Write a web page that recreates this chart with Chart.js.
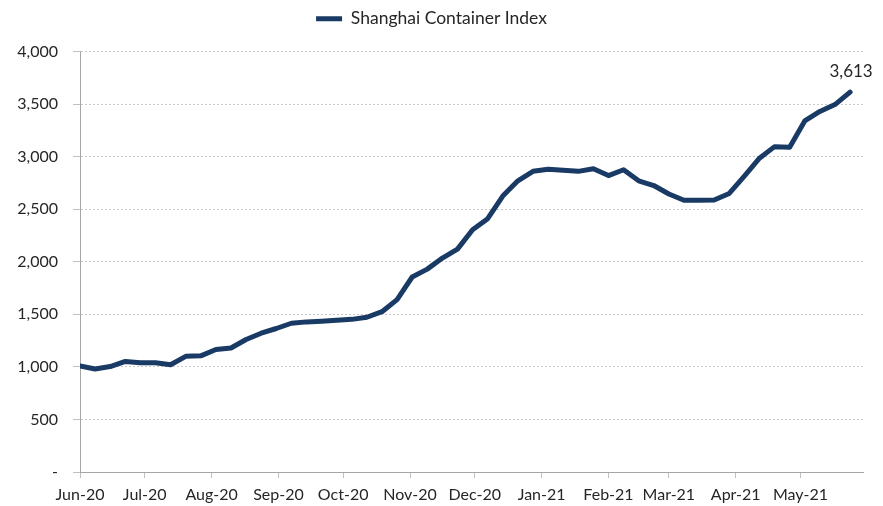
<!DOCTYPE html>
<html>
<head>
<meta charset="utf-8">
<script src="https://cdn.jsdelivr.net/npm/chart.js@4/dist/chart.umd.min.js"></script>
<style>
  html, body { margin: 0; padding: 0; background: #fff; }
  #wrap { width: 883px; height: 506px; }
</style>
</head>
<body>
<div id="wrap"><canvas id="myChart"></canvas></div>
<script>
// weekly index dates (Fridays)
const dates = [
  '2020-06-05', '2020-06-12', '2020-06-19', '2020-06-26',
  '2020-07-03', '2020-07-10', '2020-07-17', '2020-07-24', '2020-07-31',
  '2020-08-07', '2020-08-14', '2020-08-21', '2020-08-28',
  '2020-09-04', '2020-09-11', '2020-09-18', '2020-09-25',
  '2020-10-02', '2020-10-09', '2020-10-16', '2020-10-23', '2020-10-30',
  '2020-11-06', '2020-11-13', '2020-11-20', '2020-11-27',
  '2020-12-04', '2020-12-11', '2020-12-18', '2020-12-25',
  '2021-01-01', '2021-01-08', '2021-01-15', '2021-01-22', '2021-01-29',
  '2021-02-05', '2021-02-12', '2021-02-19', '2021-02-26',
  '2021-03-05', '2021-03-12', '2021-03-19', '2021-03-26',
  '2021-04-02', '2021-04-09', '2021-04-16', '2021-04-23', '2021-04-30',
  '2021-05-07', '2021-05-14', '2021-05-21', '2021-05-28'
];

// Shanghai Container Index
const indexValues = [
  1010, 980, 1003, 1052, 1040, 1040, 1020, 1100, 1105,
  1165, 1180, 1260, 1320,
  1365, 1415, 1428, 1435,
  1443, 1452, 1472, 1525, 1640,
  1855, 1930, 2035, 2120,
  2305, 2410, 2625, 2770,
  2860, 2880, 2870, 2860, 2885,
  2820, 2875, 2770, 2725,
  2645, 2585, 2585, 2587,
  2650, 2815, 2985, 3095, 3090,
  3340, 3430, 3495, 3613
];

// month ticks on the date axis
const tickDates = [
  '2020-06-05', '2020-07-05', '2020-08-05', '2020-09-05', '2020-10-05', '2020-11-05',
  '2020-12-05', '2021-01-05', '2021-02-05', '2021-03-05', '2021-04-05', '2021-05-05'
];
const tickLabels = ['Jun-20', 'Jul-20', 'Aug-20', 'Sep-20', 'Oct-20', 'Nov-20',
  'Dec-20', 'Jan-21', 'Feb-21', 'Mar-21', 'Apr-21', 'May-21'];

const yTicks = [0, 500, 1000, 1500, 2000, 2500, 3000, 3500, 4000];

const dayOf = d => (Date.parse(d) - Date.parse(dates[0])) / 86400000;

const lineColor = '#183a64';
const textColor = '#262626';
const fontFamily = 'Lato, "Open Sans", sans-serif';

// value label at the last point
const lastLabel = {
  id: 'lastLabel',
  afterDatasetsDraw(chart) {
    const meta = chart.getDatasetMeta(0);
    const i = indexValues.length - 1;
    const pt = meta.data[i];
    const ctx = chart.ctx;
    ctx.save();
    ctx.font = '17px ' + fontFamily;
    ctx.fillStyle = textColor;
    ctx.textAlign = 'center';
    ctx.textBaseline = 'middle';
    ctx.fillText(indexValues[i].toLocaleString('en-US'), pt.x + 1, pt.y - 21);
    ctx.restore();
  }
};

// extra room under the legend
const legendGap = {
  id: 'legendGap',
  afterInit(chart) {
    const fit = chart.legend.fit;
    chart.legend.fit = function () {
      fit.call(this);
      this.height += 14;
    };
  }
};

Chart.defaults.font.family = fontFamily;
Chart.defaults.font.size = 16;
Chart.defaults.color = textColor;

const ctx = document.getElementById('myChart').getContext('2d');
const myChart = new Chart(ctx, {
  type: 'line',
  data: {
    datasets: [{
      label: 'Shanghai Container Index',
      data: dates.map((d, i) => ({ x: dayOf(d), y: indexValues[i] })),
      borderColor: lineColor,
      backgroundColor: lineColor,
      borderWidth: 5,
      pointRadius: 0,
      pointHoverRadius: 0,
      tension: 0,
      borderJoinStyle: 'round',
      borderCapStyle: 'round'
    }]
  },
  options: {
    responsive: true,
    maintainAspectRatio: false,
    animation: false,
    layout: { padding: { top: 0, right: 20, left: 0, bottom: 0 } },
    plugins: {
      legend: {
        display: true,
        position: 'top',
        labels: {
          usePointStyle: true,
          pointStyle: 'line',
          pointStyleWidth: 26,
          boxHeight: 17,
          padding: 10,
          color: textColor,
          font: { size: 17.5 }
        }
      },
      tooltip: { enabled: false }
    },
    scales: {
      x: {
        type: 'linear',
        min: 0,
        max: 363,
        afterBuildTicks: scale => {
          scale.ticks = tickDates.map(d => ({ value: dayOf(d) }));
        },
        afterFit: scale => { scale.height = 34; },
        ticks: {
          autoSkip: false,
          maxRotation: 0,
          padding: 7,
          color: textColor,
          font: { size: 16 },
          callback: (value, index) => tickLabels[index]
        },
        grid: {
          drawOnChartArea: false,
          drawTicks: true,
          tickLength: 6,
          tickColor: '#bfbfbf'
        },
        border: { color: '#a6a6a6', width: 1 }
      },
      y: {
        min: 0,
        max: 4000,
        afterBuildTicks: scale => {
          scale.ticks = yTicks.map(v => ({ value: v }));
        },
        afterFit: scale => { scale.width = 80; },
        ticks: {
          padding: 15,
          color: textColor,
          font: { size: 16 },
          callback: value => value === 0 ? '-' : value.toLocaleString('en-US')
        },
        grid: {
          color: '#c8c8c8',
          drawTicks: true,
          tickLength: 7,
          tickColor: '#bfbfbf',
          tickBorderDash: []
        },
        border: { color: '#a6a6a6', width: 1, dash: [2, 2] }
      }
    }
  },
  plugins: [lastLabel, legendGap]
});
</script>
</body>
</html>
